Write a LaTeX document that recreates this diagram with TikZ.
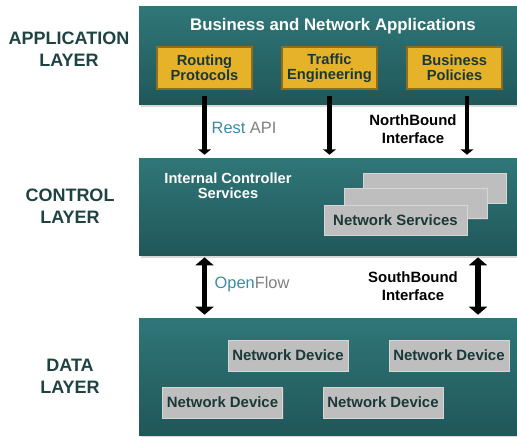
\documentclass[tikz,border=0pt]{standalone}
\usepackage{fontspec}
\setmainfont{Liberation Sans}
\usetikzlibrary{shadows,arrows.meta}
\definecolor{bandtop}{HTML}{307678}
\definecolor{bandbot}{HTML}{205759}
\definecolor{gold}{HTML}{E6B22A}
\definecolor{golddark}{HTML}{8E6E1C}
\definecolor{boxgray}{HTML}{BEBEBE}
\definecolor{boxedge}{HTML}{D6D6D6}
\definecolor{labeldark}{HTML}{1F4343}
\definecolor{boxtext}{HTML}{1A3838}
\definecolor{tealtxt}{HTML}{3A8CA3}
\definecolor{graytxt}{HTML}{808080}
\begin{document}
\begin{tikzpicture}[x=0.75pt,y=-0.75pt,
  band/.style={inner sep=0, minimum width=283.5pt, top color=bandtop, bottom color=bandbot,
    drop shadow={shadow xshift=1.2pt, shadow yshift=-1.5pt, opacity=0.3}},
  appbox/.style={fill=gold, draw=golddark, line width=0.8pt, minimum width=71.25pt,
    minimum height=31.5pt, inner sep=0, align=center, text=boxtext,
    font=\bfseries\fontsize{11}{11.6}\selectfont,
    drop shadow={shadow xshift=0.8pt, shadow yshift=-0.8pt, opacity=0.4}},
  graybox/.style={fill=boxgray, draw=boxedge, line width=0.6pt, inner sep=0, text=boxtext,
    font=\bfseries\fontsize{11.2}{13}\selectfont,
    drop shadow={shadow xshift=1pt, shadow yshift=-1pt, opacity=0.4}},
  svcbox/.style={graybox, minimum width=107.25pt, minimum height=22.5pt},
  devbox/.style={graybox, minimum width=90pt, minimum height=23.25pt},
  layerlabel/.style={align=center, text=labeldark, font=\bfseries\fontsize{13.5}{16.5}\selectfont},
  ifacelabel/.style={align=center, text=black, font=\bfseries\fontsize{11.2}{13.5}\selectfont},
  protolabel/.style={font=\fontsize{12.3}{14}\selectfont, anchor=west},
  downarrow/.style={line width=3.2pt, -{Triangle[width=9.5pt,length=4pt]}},
  bothway/.style={line width=3.8pt, {Triangle[width=13.5pt,length=6pt]}-{Triangle[width=13.5pt,length=6pt]}}
]
\useasboundingbox (0,0) rectangle (517,441);

% three layer bands
\node[band, minimum height=73.5pt] (app) at (328,56) {};
\node[band, minimum height=72.75pt] (ctl) at (328,207.5) {};
\node[band, minimum height=87pt] (data) at (328,377) {};

% layer names on the left
\node[layerlabel] (lapp) at (69,49) {APPLICATION\\LAYER};
\node[layerlabel] (lctl) at (70,206.5) {CONTROL\\LAYER};
\node[layerlabel] (ldata) at (70,376.5) {DATA\\LAYER};

% application layer
\node[text=white, font=\bfseries\fontsize{12.6}{14}\selectfont] (apptitle) at (333,26) {Business and Network Applications};
\node[appbox] (rp) at (204.5,68) {Routing\\Protocols};
\node[appbox] (te) at (329.5,68) {Traffic\\Engineering};
\node[appbox] (bp) at (454.5,68) {Business\\Policies};

% control layer
\node[align=center, text=white, font=\bfseries\fontsize{11}{11.5}\selectfont] (ics) at (228,185.5) {Internal Controller\\Services};
\node[svcbox] (ns3) at (434.5,188) {};
\node[svcbox] (ns2) at (415.5,203.5) {};
\node[svcbox] (ns1) at (395.5,220) {Network Services};

% data layer
\node[devbox] (nd1) at (288,355.5) {Network Device};
\node[devbox] (nd2) at (449,355.5) {Network Device};
\node[devbox] (nd3) at (222.5,402.5) {Network Device};
\node[devbox] (nd4) at (383,402.5) {Network Device};

% northbound connectors
\coordinate (nbx) at (467,0);
\draw[downarrow, shorten <=4.5pt, shorten >=3pt] (rp.south) -- (rp.south |- ctl.north);
\draw[downarrow, shorten <=4.5pt, shorten >=3pt] (te.south) -- (te.south |- ctl.north);
\draw[downarrow, shorten <=4.5pt, shorten >=3pt] (nbx |- bp.south) -- (nbx |- ctl.north);
\node[protolabel] (rest) at (207,128) {\textcolor{tealtxt}{Rest} \textcolor{graytxt}{API}};
\node[ifacelabel] (nbi) at (413,129) {NorthBound\\Interface};

% southbound connectors
\coordinate (sbx) at (478,0);
\draw[bothway, shorten <=0.8pt, shorten >=3pt] (rp.south |- ctl.south) -- (rp.south |- data.north);
\draw[bothway, shorten <=0.8pt, shorten >=3pt] (sbx |- ctl.south) -- (sbx |- data.north);
\node[protolabel] (of) at (210,284) {\textcolor{tealtxt}{Open}\textcolor{graytxt}{Flow}};
\node[ifacelabel] (sbi) at (413,286) {SouthBound\\Interface};
\end{tikzpicture}
\end{document}
